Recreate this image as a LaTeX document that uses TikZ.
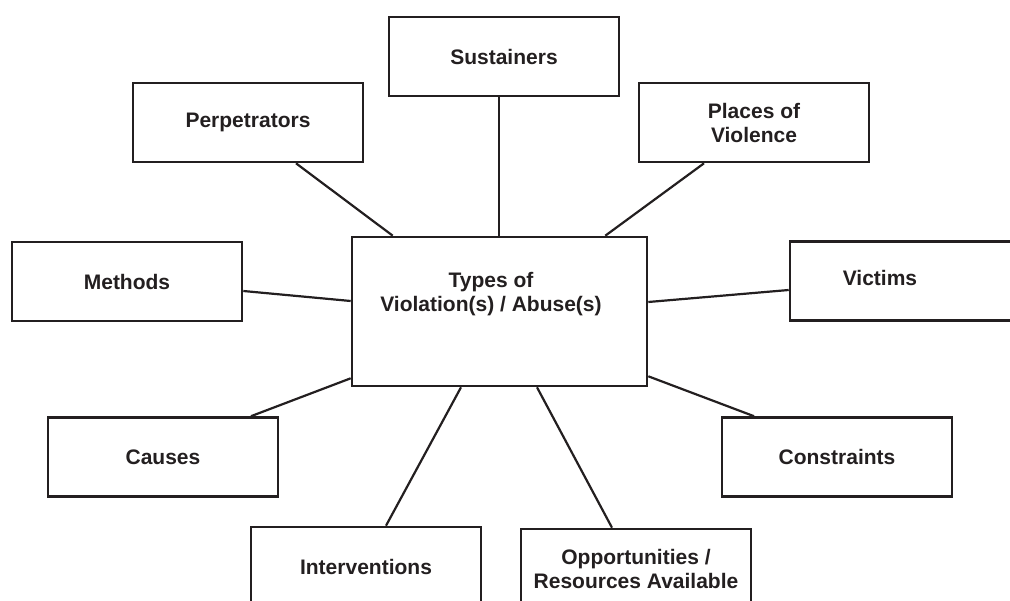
\documentclass[tikz,border=0pt]{standalone}
\usepackage{fontspec}
\setmainfont{Liberation Sans}
\definecolor{ink}{RGB}{35,31,32}

\begin{document}
\begin{tikzpicture}[
  x=1pt, y=-1pt,
  box/.style={draw=ink, line width=2.6pt, minimum width=230pt, minimum height=79pt,
    align=center, text=ink, font=\fontsize{21}{24}\selectfont\bfseries},
  lbl/.style={align=center, text=ink, font=\fontsize{21}{24}\selectfont\bfseries},
  link/.style={draw=ink, line width=2.2pt}
]
  \useasboundingbox (0,0) rectangle (1010,601);
  \clip (0,0) rectangle (1010,601);
  % centre box, its text sits high and left
  \node[box, minimum width=295pt, minimum height=149pt] (types) at (499.5,311.5) {};
  \node[lbl] (typestext) at (491,294) {Types of\\Violation(s) / Abuse(s)};
  % outer boxes
  \node[box] (sust) at (504,56.5) {Sustainers};
  \node[box] (perp) at (248,122.5) {Perpetrators};
  \node[box] (places) at (754,122.5) {Places of\\Violence};
  \node[box] (methods) at (127,281.5) {Methods};
  \node[box] (causes) at (163,457) {Causes};
  \node[box] (constr) at (837,457) {Constraints};
  \node[box] (interv) at (366,566.5) {Interventions};
  \node[box] (opport) at (636,568.5) {Opportunities /\\Resources Available};
  \node[box] (victims) at (905,281) {};
  \node[lbl] (victimstext) at (880,278) {Victims};
  % spokes (yshift is on the page, so up is positive)
  \draw[link] ([xshift=-5]sust.south) -- ([xshift=-5]sust.south |- types.north);
  \draw[link] ([xshift=48]perp.south) -- ([xshift=42]types.north west);
  \draw[link] ([xshift=-50]places.south) -- ([xshift=-43]types.north east);
  \draw[link] ([yshift=-9.5]methods.east) -- ([yshift=10.5]types.west);
  \draw[link] ([yshift=-9]victims.west) -- ([yshift=9.5]types.east);
  \draw[link] ([xshift=88]causes.north) -- ([yshift=9]types.south west);
  \draw[link] ([xshift=-83]constr.north) -- ([yshift=11]types.south east);
  \draw[link] ([xshift=20]interv.north) -- ([xshift=-38.5]types.south);
  \draw[link] ([xshift=-24]opport.north) -- ([xshift=37.5]types.south);
\end{tikzpicture}
\end{document}
